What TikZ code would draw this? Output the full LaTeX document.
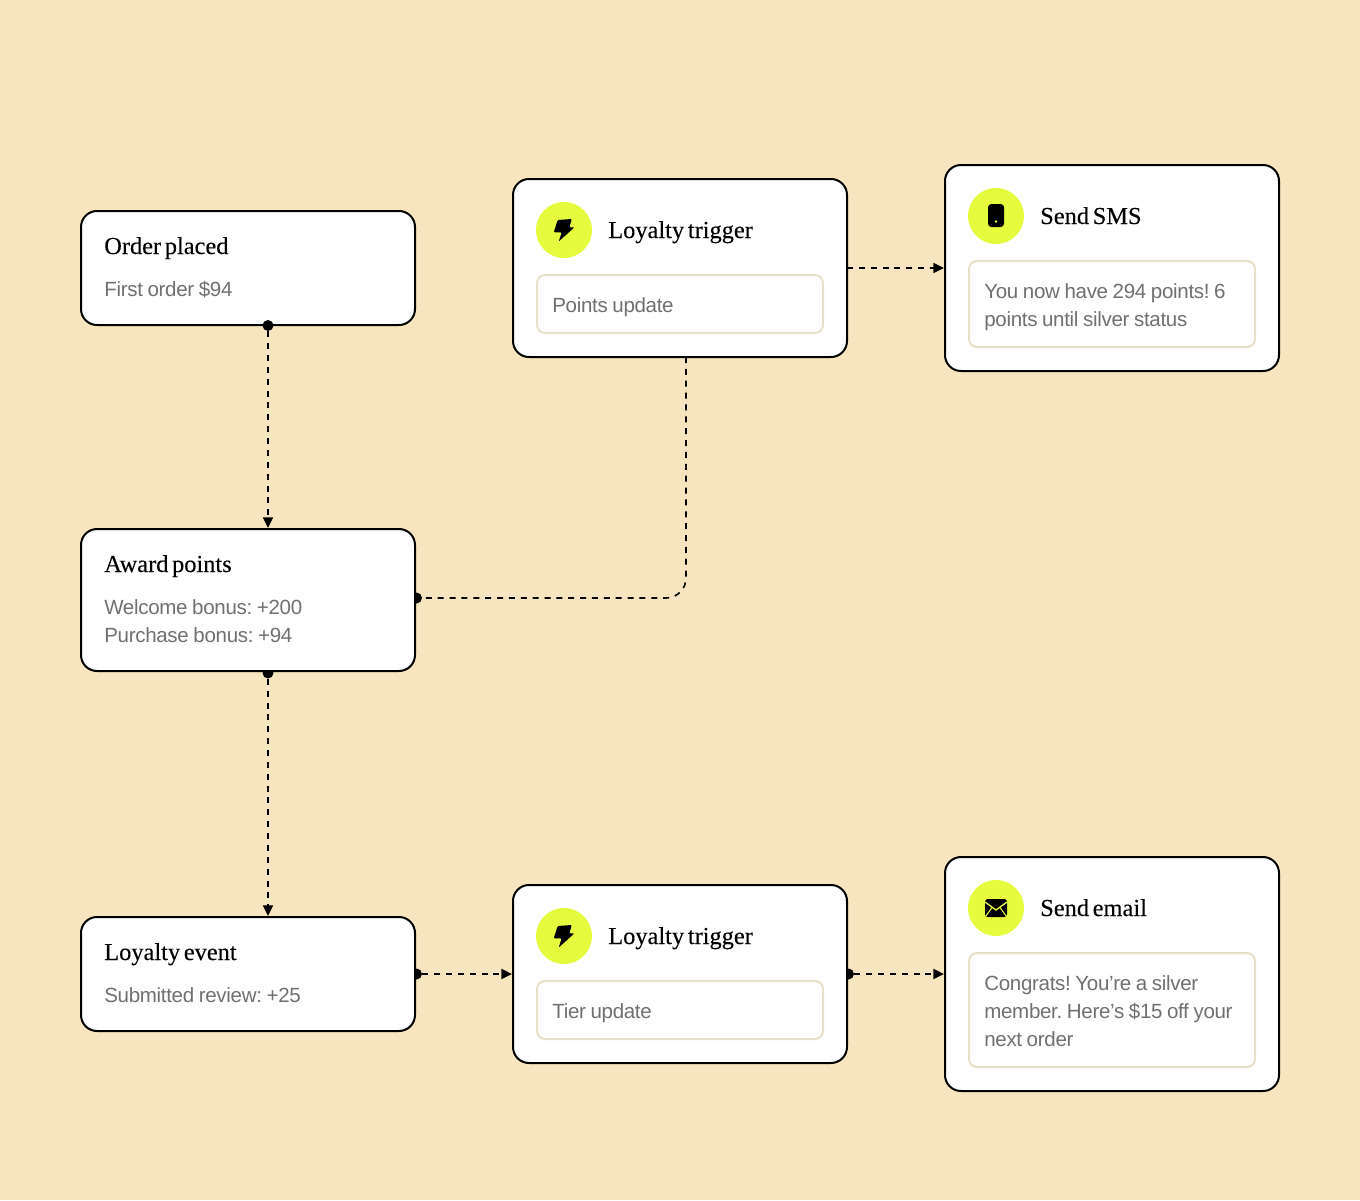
\documentclass[tikz,border=0pt]{standalone}
\usepackage{xcolor}
\usepackage{fontspec}
\usepackage{tikz}
\usetikzlibrary{arrows.meta}
\setmainfont[LetterSpace=-1.5,WordSpace=0.85]{Liberation Sans}
\newfontfamily\titlefont[WordSpace=0.6,FakeBold=0.15]{Liberation Serif}
\frenchspacing
\definecolor{sandbg}{HTML}{F7E5BF}
\definecolor{limefill}{HTML}{E6FB3D}
\definecolor{softline}{HTML}{E6E0C6}
\definecolor{bodygrey}{HTML}{707070}
\tikzset{
  card/.style args={#1x#2}{draw=black, fill=white, line width=1.5pt, rounded corners=12pt,
    inner sep=0pt, outer sep=0pt, minimum width=#1*0.75pt, minimum height=#2*0.75pt},
  inbox/.style args={#1x#2}{draw=softline, fill=white, line width=1.5pt, rounded corners=6pt,
    inner sep=0pt, outer sep=0pt, minimum width=#1*0.75pt, minimum height=#2*0.75pt},
  badge/.style={circle, fill=limefill, inner sep=0pt, minimum size=42pt},
  titletext/.style={anchor=base west, inner sep=0pt, font=\titlefont\fontsize{18.3}{21}\selectfont},
  bodytext/.style={anchor=base west, inner sep=0pt, text=bodygrey, font=\fontsize{15.4}{21}\selectfont},
  dot/.style={circle, fill=black, inner sep=0pt, minimum size=8.25pt},
  flow/.style={draw=black, line width=1.2pt, dash pattern=on 4.5pt off 4.4pt, shorten >=0.75pt, -{Triangle[length=8pt,width=7.5pt]}},
  bolt/.pic={\fill[black, rounded corners=0.8pt] (-6.3,-10) -- (7.8,-11) -- (5.3,-2.7) -- (10.5,-2.7) -- (-5.3,11.5) -- (-2.3,2.3) -- (-10.3,2.3) -- cycle;}
}
\begin{document}
\begin{tikzpicture}[x=0.75pt, y=-0.75pt]
  \useasboundingbox[fill=sandbg] (0,0) rectangle (1360,1200);
  % dots that sit behind the cards
  \node[dot] (awarddot) at (416.5,598) {};
  \node[dot] (awarddown) at (268,673) {};
  \node[dot] (eventdot) at (416.5,974) {};
  \node[dot] (tierdot) at (848.5,974) {};
  % left column
  \node[card=334x114] (placed) at (248,268) {};
  \node[card=334x142] (award) at (248,600) {};
  \node[card=334x114] (event) at (248,974) {};
  \node[titletext] (placedtitle) at (104,254) {Order placed};
  \node[bodytext] (placedbody) at (104,296) {First order \$94};
  \node[titletext] (awardtitle) at (104,572) {Award points};
  \node[bodytext] (awardbodya) at (104,614) {Welcome bonus: +200};
  \node[bodytext] (awardbodyb) at (104,642) {Purchase bonus: +94};
  \node[titletext] (eventtitle) at (104,960) {Loyalty event};
  \node[bodytext] (eventbody) at (104,1002) {Submitted review: +25};
  % triggers
  \node[card=334x178] (pointstrigger) at (680,268) {};
  \node[badge] (pointsbadge) at (564,230) {};
  \pic at (pointsbadge) {bolt};
  \node[titletext] (pointstitle) at (608,238) {Loyalty trigger};
  \node[inbox=286x58] (pointsbox) at (680,304) {};
  \node[bodytext] (pointsbody) at (552,312) {Points update};
  \node[card=334x178] (tiertrigger) at (680,974) {};
  \node[badge] (tierbadge) at (564,936) {};
  \pic at (tierbadge) {bolt};
  \node[titletext] (tiertitle) at (608,944) {Loyalty trigger};
  \node[inbox=286x58] (tierbox) at (680,1010) {};
  \node[bodytext] (tierbody) at (552,1018) {Tier update};
  % sends
  \node[card=334x206] (sms) at (1112,268) {};
  \node[badge] (smsbadge) at (996,216) {};
  \fill[black, rounded corners=2.5pt] (988,204) rectangle (1004,227);
  \fill[limefill] (996,221.5) circle (1.1pt);
  \node[titletext] (smstitle) at (1040,224) {Send SMS};
  \node[inbox=286x86] (smsbox) at (1112,304) {};
  \node[bodytext] (smsbodya) at (984,298) {You now have 294 points! 6};
  \node[bodytext] (smsbodyb) at (984,326) {points until silver status};
  \node[card=334x234] (email) at (1112,974) {};
  \node[badge] (emailbadge) at (996,908) {};
  \fill[black, rounded corners=2pt] (985,899) rectangle (1007,917);
  \draw[limefill, line width=1pt] (985,902) -- (996,910) -- (1007,902);
  \draw[limefill, line width=0.8pt] (985.5,916.5) -- (992,907.5) (1006.5,916.5) -- (1000,907.5);
  \node[titletext] (emailtitle) at (1040,916) {Send email};
  \node[inbox=286x114] (emailbox) at (1112,1010) {};
  \node[bodytext] (emailbodya) at (984,990) {Congrats! You\symbol{39}re a silver};
  \node[bodytext] (emailbodyb) at (984,1018) {member. Here\symbol{39}s \$15 off your};
  \node[bodytext] (emailbodyc) at (984,1046) {next order};
  % connectors
  \node[dot] (placeddot) at (268,325.5) {};
  \coordinate (pointsout) at (847,268);
  \coordinate (pointsdown) at (686,357);
  \draw[flow] (placeddot) -- (placeddot |- award.north);
  \draw[flow] (awarddown) -- (awarddown |- event.north);
  \draw[flow] (eventdot) -- (tiertrigger.west);
  \draw[flow] (tierdot) -- (email.west);
  \draw[flow] (pointsout) -- (pointsout -| sms.west);
  \draw[flow, -, rounded corners=15pt] (pointsdown) -- (pointsdown |- awarddot) -- (awarddot);
\end{tikzpicture}
\end{document}
